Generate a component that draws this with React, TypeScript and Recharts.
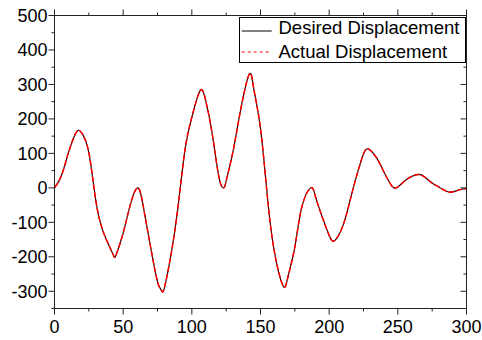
import React from "react";
import { LineChart, Line, XAxis, YAxis, Legend } from "recharts";

// time axis (s) and displacement samples
const timeSteps = [
  0, 5, 10, 15, 17.7, 20, 25, 30, 35, 40, 43.2, 45, 50, 55, 60.7, 65, 70, 75, 78, 80,
  85, 90, 95, 100, 105.9, 110, 115, 120, 123.4, 125, 130, 135, 141.6, 145, 150, 155,
  160, 166.4, 170, 175, 180, 186.6, 190, 195, 200, 204, 210, 215, 220, 225, 229, 235,
  240, 245, 249, 255, 260, 265.5, 270, 275, 280, 287, 293, 300,
];
const desiredDisp = [
  0, 35, 100, 155, 167, 158, 102, -35, -122, -170, -198, -193, -131, -52, 0, -62, -172, -272, -298, -290,
  -190, -53, 110, 205, 281, 255, 153, 26, 0, 20, 106, 215, 328, 290, 172, -25,
  -183, -284, -258, -172, -57, 0, -25, -85, -138, -153, -110, -40, 35, 98, 112, 84,
  45, 9, 0, 20, 33, 39, 30, 14, 2, -12, -8, -2,
];
const actualDisp = [
  0, 35, 100, 155, 167, 158, 102, -35, -122, -170, -198, -193, -131, -52, 0, -62, -172, -272, -298, -290,
  -190, -53, 110, 205, 281, 255, 153, 26, 0, 20, 106, 215, 328, 290, 172, -25,
  -183, -284, -258, -172, -57, 0, -25, -85, -138, -153, -110, -40, 35, 98, 112, 84,
  45, 9, 0, 20, 33, 39, 30, 14, 2, -12, -8, -2,
];
const seriesNames = ["Desired Displacement", "Actual Displacement"];
const xTicks = [0, 25, 50, 75, 100, 125, 150, 175, 200, 225, 250, 275, 300];
const yTicks = [-350, -300, -250, -200, -150, -100, -50, 0, 50, 100, 150, 200, 250, 300, 350, 400, 450, 500];

const data = timeSteps.map((t, i) => ({ t, desired: desiredDisp[i], actual: actualDisp[i] }));

const FONT = '"Liberation Sans", Arial, sans-serif';
const AXIS = "#222";

const AxisTick = (props: any) => {
  const { x, y, payload, side } = props;
  const v = payload.value;
  const major = side === "bottom" || side === "top" ? v % 50 === 0 : v % 100 === 0;
  const len = major ? 6 : 3;
  if (side === "bottom") {
    return (
      <g>
        <line x1={x} y1={y} x2={x} y2={y + len} stroke={AXIS} />
        {major && (
          <text x={x} y={y + 24} textAnchor="middle" fontSize={18} fontFamily={FONT} fill="#000">
            {v}
          </text>
        )}
      </g>
    );
  }
  if (side === "top") {
    return <line x1={x} y1={y} x2={x} y2={y - len} stroke={AXIS} />;
  }
  if (side === "left") {
    return (
      <g>
        <line x1={x - len} y1={y} x2={x} y2={y} stroke={AXIS} />
        {major && (
          <text x={x - 7} y={y} dy="0.36em" textAnchor="end" fontSize={18} fontFamily={FONT} fill="#000">
            {v}
          </text>
        )}
      </g>
    );
  }
  return <line x1={x - len} y1={y} x2={x} y2={y} stroke={AXIS} />;
};

const LegendBox = ({ payload }: any) => {
  const items = seriesNames
    .map((n) => (payload || []).find((e: any) => e.value === n))
    .filter(Boolean);
  return (
    <div
      style={{
        width: 227,
        height: 46,
        boxSizing: "border-box",
        border: "1px solid #000",
        background: "#fff",
      }}
    >
      <svg width={225} height={44} style={{ display: "block" }}>
        {items.map((entry: any, i: number) => {
          const ly = i === 0 ? 13 : 34;
          return (
            <g key={entry.value}>
              <line
                x1={1.7}
                x2={31.7}
                y1={ly}
                y2={ly}
                stroke={entry.color}
                strokeWidth={1}
                strokeDasharray={i === 0 ? undefined : "3 3"}
              />
              <text x={38.5} y={ly + 2.6 + (i === 0 ? 0 : 3.6)} fontSize={18.5} fontFamily={FONT} fill="#000">
                {entry.value}
              </text>
            </g>
          );
        })}
      </svg>
    </div>
  );
};

export default function App() {
  return (
    <div style={{ position: "absolute", left: 0, top: 0, background: "#fff" }}>
      <LineChart width={482} height={340} data={data} margin={{ top: 14.5, right: 14.5, left: 0, bottom: 0 }}>
        <XAxis
          dataKey="t"
          type="number"
          domain={[0, 300]}
          ticks={xTicks}
          interval={0}
          tickLine={false}
          tickSize={0}
          tickMargin={0}
          height={31.5}
          axisLine={{ stroke: AXIS }}
          tick={(p: any) => <AxisTick {...p} side="bottom" />}
        />
        <XAxis
          xAxisId="top"
          dataKey="t"
          orientation="top"
          type="number"
          domain={[0, 300]}
          ticks={xTicks}
          interval={0}
          tickLine={false}
          tickSize={0}
          tickMargin={0}
          height={1}
          axisLine={{ stroke: AXIS }}
          tick={(p: any) => <AxisTick {...p} side="top" />}
        />
        <YAxis
          type="number"
          domain={[-350, 500]}
          ticks={yTicks}
          interval={0}
          tickLine={false}
          tickSize={0}
          tickMargin={0}
          width={54.5}
          axisLine={{ stroke: AXIS }}
          tick={(p: any) => <AxisTick {...p} side="left" />}
        />
        <YAxis
          yAxisId="right"
          orientation="right"
          type="number"
          domain={[-350, 500]}
          ticks={yTicks}
          interval={0}
          tickLine={false}
          tickSize={0}
          tickMargin={0}
          width={1}
          axisLine={{ stroke: AXIS }}
          tick={(p: any) => <AxisTick {...p} side="right" />}
        />
        <Legend
          layout="vertical"
          align="center"
          verticalAlign="middle"
          wrapperStyle={{ left: 239, top: 17, width: 227 }}
          content={<LegendBox />}
        />
        {/* invisible series so the frame axes (top/right) get drawn */}
        <Line
          xAxisId="top"
          yAxisId="right"
          name="frame"
          dataKey="desired"
          stroke="none"
          dot={false}
          legendType="none"
          activeDot={false}
          isAnimationActive={false}
        />
        <Line
          name="Desired Displacement"
          dataKey="desired"
          type="natural"
          stroke="#000"
          strokeWidth={1.1}
          dot={false}
          isAnimationActive={false}
        />
        <Line
          name="Actual Displacement"
          dataKey="actual"
          type="natural"
          stroke="#ff0000"
          strokeWidth={1.5}
          strokeDasharray="6 2"
          dot={false}
          isAnimationActive={false}
        />
      </LineChart>
    </div>
  );
}
